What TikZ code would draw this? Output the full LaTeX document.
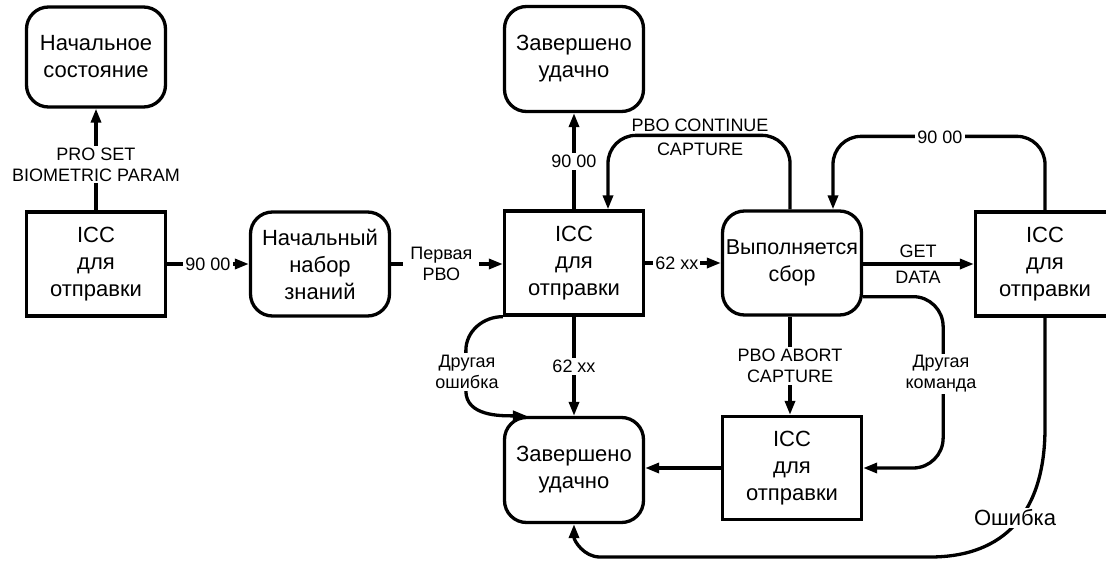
\documentclass[tikz,border=0pt]{standalone}
\usepackage{fontspec}
\setmainfont{Liberation Sans}
\usetikzlibrary{arrows.meta,calc}
\begin{document}
\begin{tikzpicture}[x=1pt,y=-1pt,
  box/.style={draw, line width=3.3pt, minimum width=139pt, minimum height=104pt,
    align=center, font=\fontsize{22}{27}\selectfont, inner sep=0pt},
  rbox/.style={box, rounded corners=22pt},
  conn/.style={line width=3.3pt, -{Triangle[length=14pt,width=10pt]}},
  lbl/.style={font=\fontsize{18}{21}\selectfont, align=center, inner sep=2pt},
  wl/.style={lbl, fill=white}
]
\useasboundingbox (0,0) rectangle (1106,562);

% nodes
\node[rbox, minimum height=100pt] (init) at (96,57) {Начальное\\состояние};
\node[box]  (iccA)  at (96,264)  {ICC\\для\\отправки};
\node[rbox] (know)  at (320,264) {Начальный\\набор\\знаний};
\node[box]  (iccB)  at (574,263) {ICC\\для\\отправки};
\node[rbox, minimum height=105pt] (doneT) at (574,59) {Завершено\\удачно};
\node[rbox, font=\fontsize{21.5}{27}\selectfont] (run) at (792,263) {Выполняется\\сбор};
\node[box]  (iccC)  at (1045,264) {ICC\\для\\отправки};
\node[box, minimum height=103pt] (iccD) at (792,468) {ICC\\для\\отправки};
\node[rbox, minimum height=105pt] (doneB) at (574,470) {Завершено\\удачно};

% connectors
\draw[conn] (iccA.north) -- node[wl, pos=0.45] (l1) {PRO SET\\BIOMETRIC PARAM} (init.south);
\draw[conn] (iccA.east) -- node[wl] (l2) {90 00} (know.west);
\draw[conn] (know.east) -- node[wl, pos=0.45, inner xsep=7pt] (l3) {Первая\\РВО} (know.east -| iccB.west);
\draw[conn] (iccB.north) -- node[wl] (l4) {90 00} (doneT.south);
\draw[conn] (iccB.east) -- node[wl, pos=0.42] (l5) {62 xx} (iccB.east -| run.west);

\draw[conn, rounded corners=28pt] ($(run.north)+(-2,0)$) -- ++(0,-74) -| ($(iccB.north)+(34,0)$);
\node[lbl, font=\fontsize{18}{24}\selectfont] (l6) at (700,137) {PBO CONTINUE\\CAPTURE};

\draw[conn, rounded corners=28pt] (iccC.north) -- ++(0,-74) -| ($(run.north)+(41,0)$);
\node[wl] (l7) at (940,137) {90 00};

\draw[conn] (run.east |- iccC.west) -- (iccC.west);
\node[lbl, font=\fontsize{18}{26}\selectfont] (l8) at (918,264) {GET\\DATA};

\draw[conn, rounded corners=30pt] ($(run.south east)+(0,-20)$) -- ++(80,0) |- (iccD.east);
\node[wl] (l9) at (941,374) {Другая\\команда};

\draw[conn] ($(run.south)+(-2,0)$) -- node[wl] (l10) {PBO ABORT\\CAPTURE} ($(iccD.north)+(-2,0)$);
\draw[conn] (iccD.west) -- (iccD.west -| doneB.east);
\draw[conn] (iccB.south) -- node[wl] (l11) {62 xx} (doneB.north);

\draw[conn] (iccB.south west) to[out=180,in=90] ++(-37,34) -- ++(0,40)
  to[out=-90,in=180] ($(doneB.north west)+(24,0)$);
\node[wl] (l12) at (467,372) {Другая\\ошибка};

\draw[conn] (iccC.south) -- ++(0,110) .. controls (1045,512) and (1005,557) .. (930,557)
  -- (600,557) to[out=180,in=-90] (doneB.south);
\node[wl, font=\fontsize{22}{26}\selectfont] (l13) at (1015,518) {Ошибка};
\end{tikzpicture}
\end{document}
